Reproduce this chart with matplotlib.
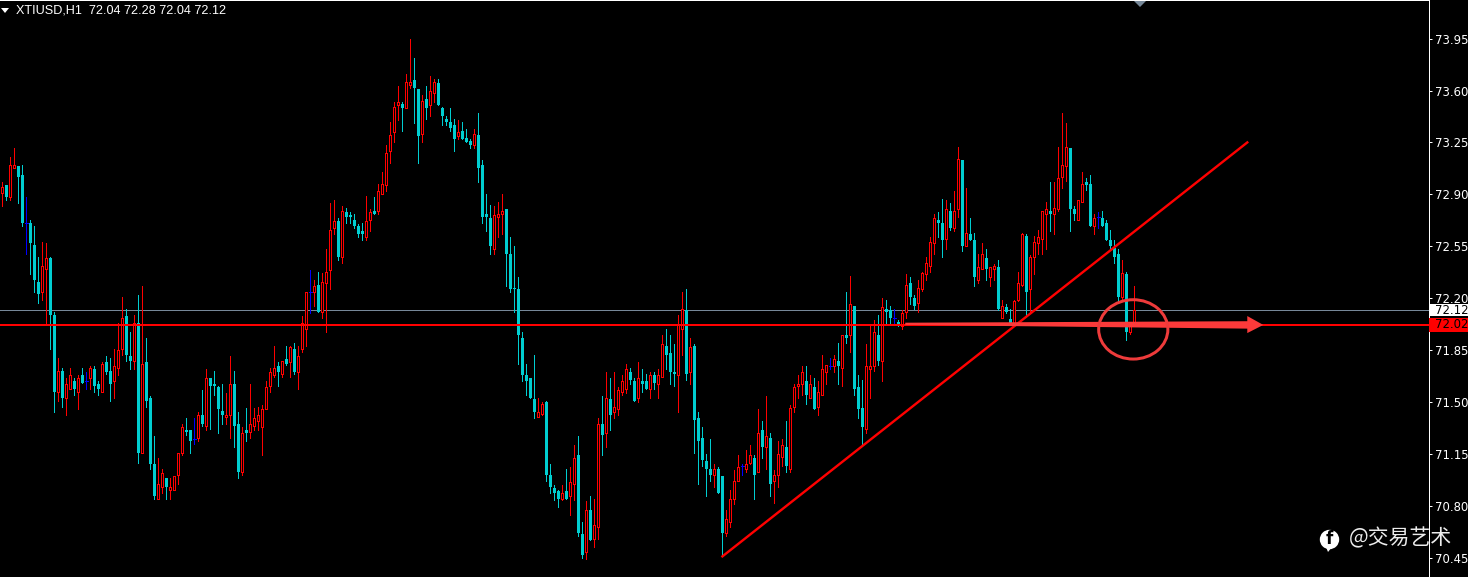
#coding:utf-8
# XTIUSD H1 candlestick chart, MT4 style
import matplotlib
matplotlib.use('Agg')
import matplotlib.pyplot as plt
from matplotlib.patches import Circle, Ellipse, Polygon, Rectangle
from matplotlib.transforms import blended_transform_factory

opens = [
    72.91,72.96,72.88,73.08,73.09,73.03,72.71,72.71,72.56,72.31,
    72.24,72.40,72.47,72.09,71.57,71.71,71.53,71.59,71.64,71.57,
    71.68,71.64,71.66,71.72,71.62,71.57,71.77,71.71,71.64,71.73,
    71.86,72.08,71.81,71.78,72.03,71.16,71.77,71.53,71.08,70.85,
    70.93,70.99,70.91,70.91,71.01,71.16,71.31,71.31,71.25,71.26,
    71.41,71.34,71.66,71.62,71.60,71.44,71.40,71.41,71.62,71.35,
    71.03,71.31,71.30,71.34,71.37,71.33,71.45,71.61,71.68,71.74,
    71.69,71.79,71.77,71.86,71.70,71.86,71.99,72.24,72.24,72.29,
    72.11,72.30,72.39,72.67,72.72,72.48,72.78,72.76,72.73,72.69,
    72.65,72.61,72.73,72.79,72.79,72.90,72.96,73.19,73.32,73.50,
    73.51,73.48,73.64,73.67,73.61,73.31,73.54,73.50,73.58,73.65,
    73.48,73.41,73.39,73.37,73.29,73.33,73.28,73.26,73.23,73.30,
    73.10,72.77,72.74,72.53,72.75,72.77,72.80,72.50,72.27,72.26,
    71.93,71.68,71.66,71.52,71.40,71.42,71.50,71.01,70.92,70.90,
    70.85,70.90,70.87,70.95,71.14,70.61,70.49,70.77,70.58,70.66,
    71.35,71.29,71.52,71.43,71.45,71.57,71.59,71.70,71.64,71.53,
    71.64,71.64,71.59,71.68,71.62,71.67,71.88,71.83,71.70,71.68,
    71.99,72.12,71.70,71.88,71.39,71.26,71.10,71.05,71.01,71.05,
    71.00,70.62,70.69,70.85,70.97,71.07,71.05,71.09,71.12,71.03,
    71.31,71.20,71.26,70.97,71.01,71.13,71.20,71.05,71.47,71.61,
    71.62,71.64,71.53,71.60,71.47,71.55,71.70,71.74,71.74,71.78,
    71.73,71.95,71.95,72.15,71.60,71.46,71.32,71.72,71.74,71.95,
    71.78,72.13,72.12,72.07,72.04,72.01,72.11,72.30,72.20,72.17,
    72.26,72.36,72.42,72.57,72.73,72.71,72.60,72.79,72.67,72.80,
    73.13,72.55,72.63,72.59,72.32,72.40,72.47,72.34,72.40,72.41,
    72.07,72.14,72.06,72.03,72.19,72.29,72.62,72.26,72.48,72.57,
    72.60,72.77,72.79,72.77,72.80,73.02,73.09,73.21,72.80,72.73,
    72.85,72.98,72.97,72.69,72.75,72.74,72.71,72.59,72.54,72.50,
    72.21,72.36,71.97,72.04]
highs = [
    72.98,72.96,73.15,73.21,73.09,73.10,72.88,72.73,72.69,72.48,
    72.58,72.57,72.48,72.11,71.80,71.73,71.66,71.73,71.66,71.68,
    71.73,71.70,71.74,71.74,71.64,71.77,71.81,71.80,71.86,72.03,
    72.21,72.13,71.97,72.09,72.22,72.28,71.93,71.54,71.27,71.12,
    71.05,70.99,70.99,71.00,71.16,71.35,71.39,71.31,71.39,71.43,
    71.58,71.72,71.66,71.71,71.61,71.62,71.56,71.81,71.71,71.43,
    71.33,71.46,71.62,71.46,71.47,71.48,71.64,71.73,71.88,71.77,
    71.78,71.88,71.88,71.90,71.88,72.08,72.24,72.39,72.32,72.38,
    72.37,72.53,72.84,72.86,72.74,72.82,72.81,72.78,72.77,72.70,
    72.71,72.89,72.80,72.88,72.97,73.05,73.23,73.39,73.52,73.63,
    73.52,73.71,73.95,73.82,73.61,73.57,73.63,73.70,73.68,73.68,
    73.49,73.43,73.48,73.41,73.40,73.39,73.34,73.27,73.34,73.45,
    73.13,72.90,72.83,72.82,72.85,72.90,72.80,72.61,72.55,72.34,
    71.97,71.76,71.66,71.82,71.53,71.50,71.51,71.08,70.94,70.91,
    70.94,71.05,71.06,71.21,71.27,70.69,70.83,70.87,70.85,71.39,
    71.54,71.70,71.66,71.70,71.60,71.68,71.76,71.73,71.66,71.77,
    71.72,71.69,71.70,71.70,71.72,71.95,71.99,71.95,71.89,72.09,
    72.24,72.26,71.93,71.89,71.43,71.33,71.15,71.25,71.08,71.06,
    71.00,70.77,70.91,71.04,71.14,71.08,71.18,71.21,71.14,71.45,
    71.37,71.54,71.29,71.04,71.24,71.25,71.37,71.48,71.62,71.68,
    71.74,71.74,71.68,71.66,71.64,71.82,71.75,71.80,71.82,71.90,
    71.95,72.24,72.35,72.15,71.68,71.65,71.89,72.02,72.05,72.09,
    72.20,72.19,72.15,72.13,72.05,72.12,72.36,72.34,72.22,72.32,
    72.38,72.48,72.61,72.77,72.78,72.87,72.86,72.84,72.92,73.22,
    73.13,72.94,72.74,72.64,72.50,72.57,72.53,72.41,72.43,72.46,
    72.19,72.16,72.13,72.19,72.38,72.64,72.63,72.49,72.62,72.66,
    72.79,72.85,72.98,72.98,73.22,73.45,73.38,73.21,72.82,72.86,
    73.05,73.01,73.03,72.77,72.78,72.79,72.73,72.66,72.59,72.53,
    72.46,72.38,72.04,72.28]
lows = [
    72.82,72.86,72.86,73.08,72.84,72.69,72.50,72.36,72.24,72.17,
    72.19,72.02,71.86,71.43,71.51,71.47,71.41,71.59,71.55,71.45,
    71.63,71.59,71.59,71.57,71.55,71.57,71.69,71.51,71.53,71.68,
    71.82,71.78,71.72,71.72,71.09,71.16,71.47,71.05,70.85,70.85,
    70.89,70.85,70.85,70.91,70.95,71.14,71.28,71.16,71.22,71.24,
    71.34,71.31,71.32,71.55,71.29,71.35,71.35,71.26,71.20,70.99,
    71.01,71.24,71.26,71.31,71.31,71.14,71.45,71.57,71.67,71.61,
    71.67,71.75,71.67,71.69,71.59,71.84,71.88,72.10,72.15,72.11,
    72.07,71.97,72.26,72.63,72.46,72.44,72.71,72.71,72.67,72.61,
    72.59,72.59,72.65,72.77,72.77,72.90,72.92,73.11,73.25,73.40,
    73.33,73.48,73.62,73.38,73.11,73.25,73.41,73.43,73.52,73.50,
    73.37,73.37,73.33,73.19,73.27,73.27,73.25,73.21,73.21,72.98,
    72.71,72.65,72.50,72.50,72.61,72.63,72.28,72.24,72.11,71.76,
    71.64,71.55,71.53,71.39,71.40,71.41,70.97,70.89,70.84,70.79,
    70.84,70.85,70.74,70.84,70.60,70.45,70.44,70.57,70.52,70.58,
    71.14,71.20,71.31,71.39,71.41,71.55,71.56,71.62,71.51,71.50,
    71.57,71.59,71.53,71.59,71.53,71.67,71.72,71.62,71.61,71.43,
    71.82,71.65,71.62,71.16,70.95,71.07,70.87,70.97,70.93,70.89,
    70.46,70.60,70.66,70.81,70.97,71.01,71.03,71.08,70.85,71.03,
    71.12,71.05,70.87,70.82,70.93,71.07,71.03,71.03,71.43,71.53,
    71.55,71.49,71.53,71.45,71.41,71.55,71.62,71.72,71.70,71.62,
    71.61,71.90,71.84,71.55,71.39,71.22,71.29,71.53,71.71,71.75,
    71.64,72.03,72.03,72.03,72.01,71.99,72.07,72.16,72.13,72.11,
    72.25,72.32,72.38,72.50,72.61,72.48,72.53,72.66,72.65,72.75,
    72.52,72.55,72.59,72.28,72.30,72.40,72.32,72.28,72.32,72.12,
    72.07,72.10,72.03,72.02,72.18,72.28,72.09,72.11,72.36,72.50,
    72.50,72.53,72.65,72.63,72.79,72.94,72.99,72.65,72.73,72.73,
    72.85,72.93,72.69,72.63,72.67,72.69,72.59,72.54,72.44,72.18,
    72.19,71.92,71.96,72.04]
closes = [
    72.95,72.88,73.10,73.10,73.02,72.71,72.71,72.57,72.32,72.23,
    72.42,72.47,72.09,71.57,71.71,71.53,71.62,71.68,71.59,71.66,
    71.63,71.64,71.73,71.61,71.59,71.76,71.70,71.62,71.74,71.85,
    72.07,71.82,71.78,72.03,71.16,71.76,71.51,71.08,70.87,70.95,
    71.02,70.93,70.93,71.00,71.16,71.33,71.30,71.24,71.25,71.41,
    71.35,71.66,71.61,71.61,71.45,71.41,71.41,71.62,71.34,71.03,
    71.29,71.29,71.35,71.39,71.41,71.45,71.60,71.70,71.73,71.70,
    71.78,71.76,71.87,71.70,71.81,72.03,72.24,72.24,72.28,72.11,
    72.31,72.38,72.66,72.72,72.48,72.79,72.75,72.75,72.69,72.63,
    72.63,72.72,72.78,72.77,72.92,72.97,73.18,73.30,73.49,73.52,
    73.48,73.66,73.66,73.62,73.29,73.53,73.48,73.60,73.66,73.50,
    73.43,73.39,73.35,73.27,73.32,73.27,73.25,73.23,73.31,73.08,
    72.75,72.75,72.55,72.76,72.77,72.79,72.50,72.26,72.26,71.95,
    71.68,71.64,71.53,71.43,71.43,71.49,71.01,70.93,70.89,70.85,
    70.89,70.85,70.96,71.12,70.62,70.47,70.77,70.57,70.67,71.35,
    71.28,71.53,71.41,71.47,71.58,71.64,71.72,71.65,71.51,71.66,
    71.62,71.59,71.68,71.63,71.68,71.89,71.82,71.70,71.69,72.02,
    72.13,71.69,71.87,71.38,71.24,71.11,71.05,71.01,71.05,70.89,
    70.62,70.71,70.85,70.97,71.06,71.07,71.08,71.14,71.01,71.29,
    71.20,71.27,70.95,71.01,71.15,71.21,71.07,71.46,71.60,71.62,
    71.70,71.55,71.62,71.45,71.57,71.72,71.75,71.74,71.79,71.74,
    71.95,71.93,72.16,71.59,71.45,71.33,71.74,71.74,71.97,71.78,
    72.14,72.11,72.07,72.07,72.02,72.10,72.29,72.21,72.15,72.27,
    72.37,72.44,72.58,72.74,72.71,72.59,72.80,72.67,72.79,73.14,
    72.55,72.64,72.59,72.34,72.41,72.50,72.40,72.41,72.42,72.13,
    72.15,72.11,72.03,72.18,72.30,72.63,72.24,72.48,72.58,72.61,
    72.79,72.80,72.77,72.81,73.01,73.10,73.22,72.80,72.77,72.86,
    72.97,72.96,72.69,72.74,72.75,72.69,72.59,72.55,72.48,72.21,
    72.37,71.97,72.03,72.12]

price_ticks = [73.95, 73.60, 73.25, 72.90, 72.55, 72.20, 71.85, 71.50, 71.15, 70.80, 70.45]
bid = 72.12
ask = 72.02
trend_x = [180, 311.2]
trend_y = [70.46, 73.25]
title = 'XTIUSD,H1  72.04 72.28 72.04 72.12'

RED = '#ff0000'
CYAN = '#00ced1'
BLUE = '#0000ff'
MARK = '#fb3a3a'
px = 0.72  # one pixel in points at dpi 100

fig = plt.figure(figsize=(14.68, 5.77), dpi=100, facecolor='black')
ax = fig.add_axes([0, 0, 1428.5 / 1468, 1], facecolor='black')
ax.set_xlim(-0.5825, 356.5)
ax.set_ylim(74.21 - 0.00674 * 577, 74.21)

# 参考线
ax.axhline(bid, color='#778899', lw=px, zorder=1)
ax.axhline(ask, color=RED, lw=2 * px, zorder=5)

# 蜡烛图
for i in range(len(opens)):
    o, h, l, c = opens[i], highs[i], lows[i], closes[i]
    if c > o:
        col = RED
    elif c < o:
        col = CYAN
    else:
        col = BLUE
    ax.vlines(i, l, h, color=col, lw=px, antialiased=False, zorder=2)
    if col == BLUE:
        ax.hlines(o, i - 0.375, i + 0.375, color=col, lw=px, antialiased=False, zorder=3)
    elif col == RED:
        ax.bar(i, c - o, width=0.5, bottom=o, facecolor='black',
               edgecolor=col, linewidth=px, antialiased=False, zorder=3)
    else:
        ax.bar(i, o - c, width=0.75, bottom=c, facecolor=col,
               edgecolor='none', antialiased=False, zorder=3)

# 手工标注
ax.plot(trend_x, trend_y, color=RED, lw=2.4 * px, zorder=6)
arrow_x = [225.7, 311.2, 311.2, 315.2, 311.2, 311.2, 225.7]
arrow_y = [72.035, 72.045, 72.08, 72.02, 71.965, 71.995, 72.02]
ax.add_patch(Polygon(list(zip(arrow_x, arrow_y)), closed=True, facecolor=MARK,
                     edgecolor='none', zorder=7))
ax.add_patch(Ellipse((282.7, 71.99), 17.3, 0.40, fill=False, edgecolor='#ee3b3b',
                     lw=3 * px, zorder=7))

# 坐标轴
ax.set_xticks([])
ax.yaxis.tick_right()
ax.set_yticks(price_ticks)
ax.set_yticklabels(['%.2f' % p for p in price_ticks])
ax.tick_params(axis='y', colors='white', length=3 * px, width=px, pad=3 * px, labelsize=8.4)
for side in ['left', 'bottom']:
    ax.spines[side].set_visible(False)
for side in ['top', 'right']:
    ax.spines[side].set_color('white')
    ax.spines[side].set_linewidth(px)

# 右侧价格标签
trans = blended_transform_factory(ax.transAxes, ax.transData)
for price, face in [(bid, 'white'), (ask, RED)]:
    box_h = 12 * 0.00674 if face == 'white' else 14 * 0.00674
    ax.add_patch(Rectangle((1.0005, price - box_h / 2), 0.028, box_h, transform=trans,
                           facecolor=face, edgecolor='none', clip_on=False, zorder=8))
    ax.text(1 + 6 / 1428.5, price, '%.2f' % price, transform=trans, color='black', fontsize=8.4,
            va='center', ha='left', clip_on=False, zorder=9)

# 顶部标题和三角形
ax.add_patch(Polygon([(1 / 1428.5, 1 - 8 / 577), (9 / 1428.5, 1 - 8 / 577), (5 / 1428.5, 1 - 13 / 577)],
                     closed=True, transform=ax.transAxes, facecolor='white', edgecolor='none'))
ax.add_patch(Polygon([(1133 / 1428.5, 1), (1147 / 1428.5, 1), (1140 / 1428.5, 1 - 7 / 577)],
                     closed=True, transform=ax.transAxes, facecolor='#778899', edgecolor='none'))
ax.text(16 / 1428.5, 1 - 10.5 / 577, title, transform=ax.transAxes, color='white', fontsize=9.1,
        family=['Liberation Sans', 'DejaVu Sans'], va='center', ha='left')

# 水印
cx, cy = 1329.5 / 1468, 1 - 539.5 / 577
fig.add_artist(Circle((1329.5, 577 - 539.5), 9.7, transform=None, facecolor='white', edgecolor='none'))
fig.add_artist(Polygon([(1326, 577 - 547), (1332, 577 - 547), (1328, 577 - 552)], closed=True,
                       transform=None, facecolor='white', edgecolor='none'))
fig.text(cx, cy, 'f', color='black', fontsize=12, fontweight='bold',
         family='DejaVu Sans', ha='center', va='center')
fig.text(1349 / 1468, 1 - 538 / 577, '@交易艺术', color='#ececec', fontsize=15,
         family=['Noto Sans CJK SC', 'DejaVu Sans'], ha='left', va='center')

fig.savefig('out.png', dpi=100, facecolor='black')
plt.close(fig)
